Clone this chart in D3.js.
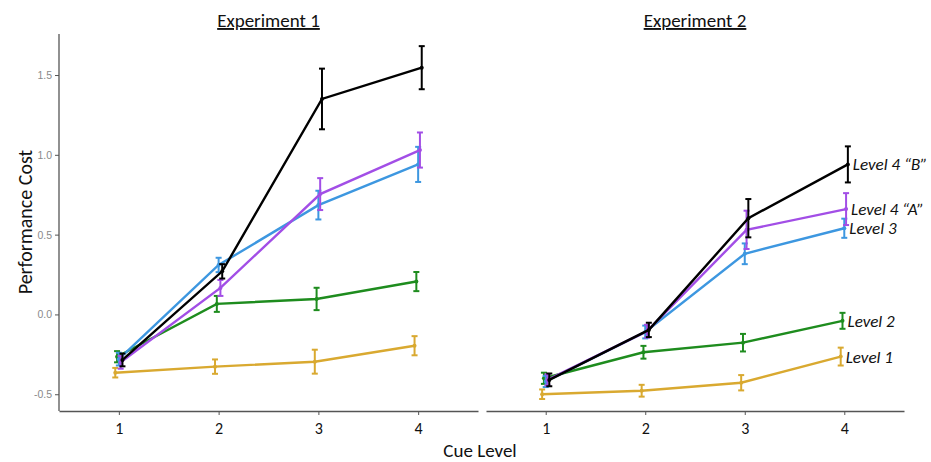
<!DOCTYPE html>
<html><head><meta charset="utf-8">
<script src="https://cdn.jsdelivr.net/npm/d3@7"></script>
<style>
body{margin:0;background:#fff;}
svg{display:block;}
text{font-family: Carlito, Calibri, Lato, "Open Sans", sans-serif;}
</style></head>
<body><svg id="c" width="931" height="462"></svg>
<script>
const cueLevels = [1, 2, 3, 4];
const panels = ["Experiment 1", "Experiment 2"];
const seriesNames = ["Level 1", "Level 2", "Level 3", "Level 4 \u201CA\u201D", "Level 4 \u201CB\u201D"];
const seriesColors = ["#d9a930", "#1e8c1e", "#3d97e0", "#a24ee6", "#000000"];
const yTicks = [-0.5, 0.0, 0.5, 1.0, 1.5];
const yTickLabels = ["-0.5", "0.0", "0.5", "1.0", "1.5"];

// Experiment 1 means and error half-widths
const exp1Level1 = [-0.365, -0.327, -0.296, -0.196];
const exp1Level1Err = [0.03, 0.045, 0.075, 0.06];
const exp1Level2 = [-0.265, 0.066, 0.097, 0.206];
const exp1Level2Err = [0.035, 0.05, 0.07, 0.06];
const exp1Level3 = [-0.28, 0.31, 0.685, 0.94];
const exp1Level3Err = [0.04, 0.045, 0.09, 0.11];
const exp1Level4A = [-0.30, 0.166, 0.754, 1.03];
const exp1Level4AErr = [0.04, 0.05, 0.1, 0.11];
const exp1Level4B = [-0.285, 0.27, 1.35, 1.546];
const exp1Level4BErr = [0.04, 0.045, 0.19, 0.135];

// Experiment 2
const exp2Level1 = [-0.50, -0.478, -0.428, -0.264];
const exp2Level1Err = [0.03, 0.037, 0.048, 0.056];
const exp2Level2 = [-0.40, -0.237, -0.177, -0.04];
const exp2Level2Err = [0.035, 0.04, 0.055, 0.05];
const exp2Level3 = [-0.42, -0.11, 0.38, 0.54];
const exp2Level3Err = [0.035, 0.04, 0.065, 0.06];
const exp2Level4A = [-0.41, -0.105, 0.53, 0.66];
const exp2Level4AErr = [0.035, 0.04, 0.12, 0.1];
const exp2Level4B = [-0.41, -0.097, 0.603, 0.94];
const exp2Level4BErr = [0.04, 0.045, 0.12, 0.113];

const panelData = [
  [[exp1Level1, exp1Level1Err],[exp1Level2, exp1Level2Err],[exp1Level3, exp1Level3Err],[exp1Level4A, exp1Level4AErr],[exp1Level4B, exp1Level4BErr]],
  [[exp2Level1, exp2Level1Err],[exp2Level2, exp2Level2Err],[exp2Level3, exp2Level3Err],[exp2Level4A, exp2Level4AErr],[exp2Level4B, exp2Level4BErr]]
];

const svg = d3.select("#c");
const yTop = 34, yBottom = 411;
const y = d3.scaleLinear().domain([-0.605, 1.757]).range([yBottom, yTop]);
const panelX = [[59, 478], [486, 904]];

// Y axis (left panel only)
const yAxis = d3.axisLeft(y).tickValues(yTicks).tickFormat((d,i)=>yTickLabels[i]).tickSize(4).tickSizeOuter(0);
const ga = svg.append("g").attr("transform", `translate(59,0)`).call(yAxis);
ga.select(".domain").attr("stroke", "#555").attr("stroke-width", 1.3).attr("d", `M0,${yTop}V${yBottom}`);
ga.selectAll(".tick line").attr("stroke", "#555");
ga.selectAll(".tick text").attr("fill", "#8a8a8a").style("font-family", "Liberation Sans, Arial, sans-serif").style("font-size", "10.5px");

panels.forEach((title, p) => {
  const [x0, x1] = panelX[p];
  const x = d3.scaleLinear().domain([0.4, 4.6]).range([x0, x1]);
  const xAxis = d3.axisBottom(x).tickValues(cueLevels).tickFormat(d3.format("d")).tickSize(4).tickSizeOuter(0);
  const gx = svg.append("g").attr("transform", `translate(0,${yBottom})`).call(xAxis);
  gx.select(".domain").attr("stroke", "#555").attr("stroke-width", 1.3);
  gx.selectAll(".tick line").attr("stroke", "#555");
  gx.selectAll(".tick text").attr("fill", "#111").attr("y", 8).attr("dy", "0.95em").style("font-size", "16px");

  svg.append("text").attr("x", (x0 + x1) / 2).attr("y", 27).attr("text-anchor", "middle")
    .style("font-size", "19px").style("text-decoration", "underline").attr("fill", "#111").text(title);

  const g = svg.append("g");
  panelData[p].forEach(([vals, errs], s) => {
    const off = (s - 2) * 0.018;
    const pts = cueLevels.map((c, i) => ({x: c + off, v: vals[i], e: errs[i]}));
    const col = seriesColors[s];
    g.append("path").datum(pts).attr("fill", "none").attr("stroke", col).attr("stroke-width", 2.4)
      .attr("d", d3.line().x(d => x(d.x)).y(d => y(d.v)));
    pts.forEach(d => {
      const cx = x(d.x);
      const yt = y(d.v + d.e), yb = y(d.v - d.e);
      g.append("line").attr("x1", cx).attr("x2", cx).attr("y1", yt).attr("y2", yb).attr("stroke", col).attr("stroke-width", 2);
      g.append("line").attr("x1", cx - 3).attr("x2", cx + 3).attr("y1", yt).attr("y2", yt).attr("stroke", col).attr("stroke-width", 2);
      g.append("line").attr("x1", cx - 3).attr("x2", cx + 3).attr("y1", yb).attr("y2", yb).attr("stroke", col).attr("stroke-width", 2);
      g.append("circle").attr("cx", cx).attr("cy", y(d.v)).attr("r", 2).attr("fill", col);
    });
    if (p === 1) {
      const last = pts[pts.length - 1];
      svg.append("text").attr("x", x(last.x) + 5).attr("y", y(last.v)).attr("dy", "0.35em")
        .style("font-size", "17px").style("font-style", "italic").attr("fill", "#111").text(seriesNames[s]);
    }
  });
});

svg.append("text").attr("transform", `translate(25,222) rotate(-90)`).attr("text-anchor", "middle")
  .attr("dy", "0.35em").style("font-size", "20px").attr("fill", "#111").text("Performance Cost");
svg.append("text").attr("x", 480).attr("y", 450).attr("text-anchor", "middle").attr("dy", "0.35em")
  .style("font-size", "19px").attr("fill", "#111").text("Cue Level");
</script></body></html>
